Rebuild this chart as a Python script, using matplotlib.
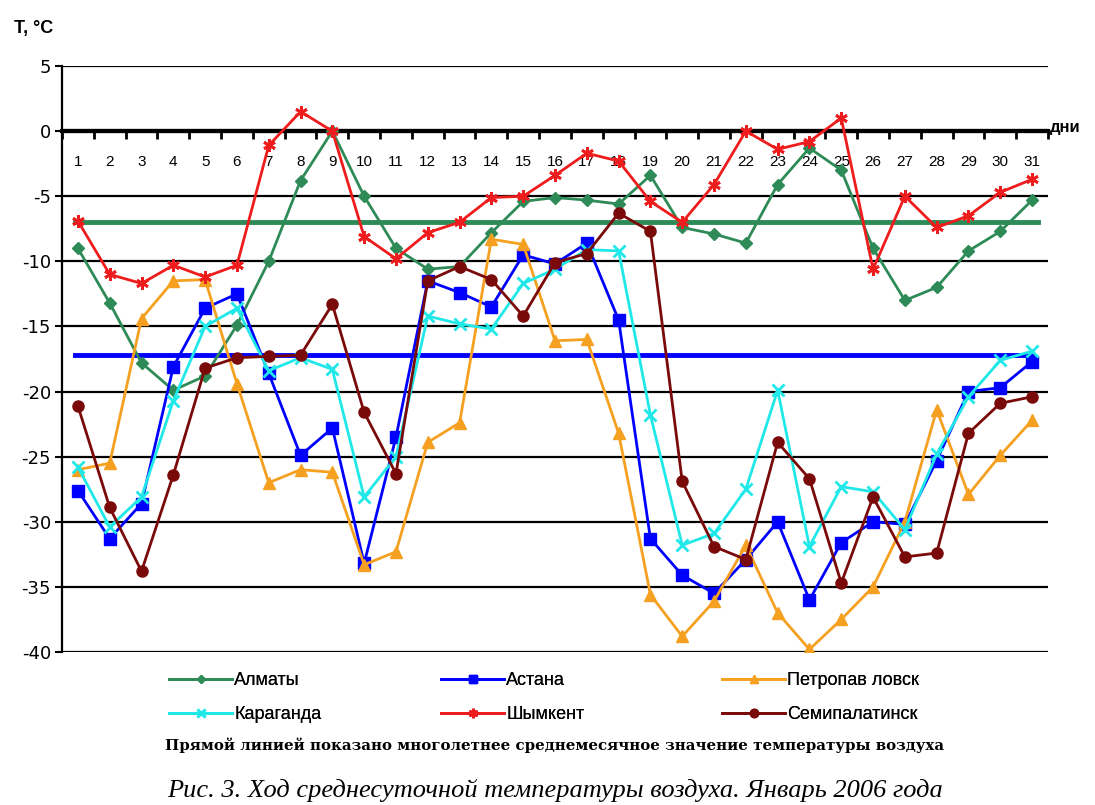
import matplotlib.pyplot as plt
from matplotlib.transforms import blended_transform_factory

days = list(range(1, 32))

almaty = [-9.0, -13.2, -17.8, -19.9, -18.8, -14.9, -10.0, -3.8, 0.0, -5.0,
          -9.0, -10.6, -10.4, -7.8, -5.4, -5.1, -5.3, -5.6, -3.4, -7.4,
          -7.9, -8.6, -4.1, -1.3, -3.0, -9.0, -13.0, -12.0, -9.2, -7.7, -5.3]
astana = [-27.6, -31.3, -28.6, -18.1, -13.6, -12.5, -18.6, -24.9, -22.8, -33.2,
          -23.5, -11.5, -12.4, -13.5, -9.5, -10.2, -8.6, -14.5, -31.3, -34.1,
          -35.5, -32.9, -30.0, -36.0, -31.6, -30.0, -30.2, -25.3, -20.0, -19.7, -17.7]
petropavlovsk = [-26.0, -25.5, -14.4, -11.5, -11.4, -19.4, -27.0, -26.0, -26.2, -33.3,
                 -32.3, -23.9, -22.4, -8.3, -8.7, -16.1, -16.0, -23.2, -35.6, -38.8,
                 -36.1, -31.8, -37.0, -39.8, -37.5, -35.0, -30.0, -21.4, -27.9, -24.9, -22.2]
karaganda = [-25.8, -30.4, -28.1, -20.7, -15.0, -13.6, -18.4, -17.4, -18.3, -28.1,
             -25.0, -14.2, -14.8, -15.2, -11.7, -10.6, -9.1, -9.2, -21.8, -31.8,
             -30.9, -27.5, -19.9, -31.9, -27.3, -27.7, -30.6, -24.8, -20.4, -17.6, -16.9]
shymkent = [-6.9, -11.0, -11.7, -10.3, -11.2, -10.3, -1.1, 1.5, 0.0, -8.1,
            -9.8, -7.8, -7.0, -5.1, -5.0, -3.4, -1.7, -2.3, -5.4, -7.0,
            -4.1, 0.0, -1.4, -0.8, 1.0, -10.6, -5.0, -7.4, -6.5, -4.7, -3.7]
semipalatinsk = [-21.1, -28.9, -33.8, -26.4, -18.2, -17.4, -17.3, -17.2, -13.3, -21.6,
                 -26.3, -11.5, -10.4, -11.4, -14.2, -10.1, -9.4, -6.3, -7.7, -26.9,
                 -31.9, -32.9, -23.9, -26.7, -34.7, -28.1, -32.7, -32.4, -23.2, -20.9, -20.4]

mean_almaty = -7.0
mean_astana = -17.2

yticks = [5, 0, -5, -10, -15, -20, -25, -30, -35, -40]

series = [
    ('Алматы', almaty, '#2E8B57', 'D', 6),
    ('Астана', astana, '#0000FF', 's', 8),
    ('Петропав ловск', petropavlovsk, '#F5A020', '^', 8),
    ('Караганда', karaganda, '#20E8E8', 'x', 8),
    ('Шымкент', shymkent, '#EE1C1C', (6, 2, 0), 9),
    ('Семипалатинск', semipalatinsk, '#7A0A0A', 'o', 8),
]


def main():
    plt.rcParams['font.family'] = ['Liberation Sans', 'DejaVu Sans']
    fig = plt.figure(figsize=(10.95, 8.05), dpi=100)
    ax = fig.add_axes([62 / 1095, 1 - 652 / 805, (1048 - 62) / 1095, (652 - 66) / 805])

    # horizontal grid
    for y in yticks:
        ax.axhline(y, color='black', lw=3 if y == 0 else 1.6, zorder=1)

    # long-term means
    ax.plot([0.9, 31.2], [mean_almaty, mean_almaty], color='#2E8B57', lw=3.5, zorder=2)
    ax.plot([0.9, 31.0], [mean_astana, mean_astana], color='#0000FF', lw=3.5, zorder=2)

    handles = []
    for name, vals, col, mk, ms in series:
        mew = 2 if mk in ('x',) or isinstance(mk, tuple) else 1
        h, = ax.plot(days, vals, color=col, lw=2, marker=mk, ms=ms, mew=mew,
                     mec=col, mfc=col, label=name, zorder=3)
        handles.append(h)

    ax.set_xlim(0.5, 31.5)
    ax.set_ylim(-40, 5)
    ax.set_yticks(yticks)
    ax.set_yticklabels([str(v) for v in yticks], fontsize=13, family='DejaVu Sans')
    ax.tick_params(axis='y', length=5, width=1.5, pad=3)

    ax.spines['top'].set_visible(False)
    ax.spines['right'].set_visible(False)
    ax.spines['bottom'].set_position(('data', 0))
    ax.spines['bottom'].set_linewidth(3)
    ax.spines['left'].set_linewidth(1.6)

    ax.set_xticks(days)
    ax.set_xticklabels([str(d) for d in days], fontsize=11)
    ax.set_xticks([d + 0.5 for d in range(0, 32)], minor=True)
    ax.tick_params(axis='x', which='major', length=0, pad=17)
    ax.tick_params(axis='x', which='minor', length=6, width=2, direction='out')

    trans = blended_transform_factory(ax.transAxes, ax.transData)
    ax.text(1.002, 0.3, 'дни', transform=trans, fontsize=12,
            fontweight='bold', ha='left', va='center')
    fig.text(14 / 1095, 1 - 28 / 805, 'T, °C', fontsize=13, fontweight='bold',
             ha='left', va='center')

    # legend, three columns of two entries
    col_x = [160 / 1095, 432 / 1095, 713 / 1095]
    for i, x in enumerate(col_x):
        leg = fig.legend([handles[i], handles[i + 3]],
                         [series[i][0], series[i + 3][0]],
                         loc='upper left', bbox_to_anchor=(x, 1 - 663 / 805),
                         frameon=False, fontsize=13, handlelength=3.5,
                         handletextpad=0.1, labelspacing=0.95, borderpad=0,
                         markerscale=0.75)
        fig.add_artist(leg)

    fig.text(555 / 1095, 1 - 745 / 805,
             'Прямой линией показано многолетнее среднемесячное значение температуры воздуха',
             family='DejaVu Serif', fontweight='bold', fontsize=10.8,
             ha='center', va='center')
    fig.text(555 / 1095, 1 - 790 / 805,
             'Рис. 3. Ход среднесуточной температуры воздуха. Январь 2006 года',
             family='Liberation Serif', style='italic', fontsize=19,
             ha='center', va='center')

    fig.savefig('out.png', dpi=100)


if __name__ == "__main__":
    main()
